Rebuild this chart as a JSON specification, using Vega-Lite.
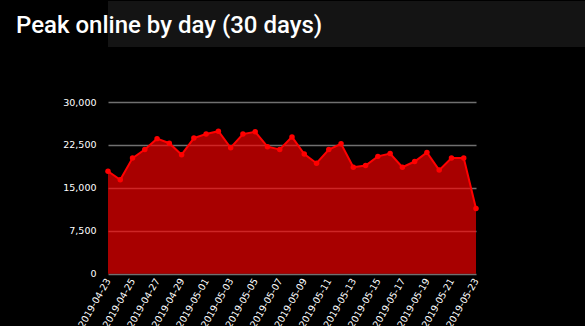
{
  "$schema": "https://vega.github.io/schema/vega-lite/v6.json",
  "background": "#000000",
  "padding": 0,
  "spacing": 50,
  "config": {
    "view": {"stroke": null},
    "axis": {"labelFont": "DejaVu Sans", "labelFontSize": 9.5, "labelColor": "#ffffff", "domain": false, "ticks": false, "tickSize": 0, "title": null}
  },
  "vconcat": [
    {
      "width": 477,
      "height": 46,
      "view": {"fill": "#141414", "stroke": null},
      "title": {"text": "Peak online by day (30 days)", "anchor": "start", "frame": "group", "offset": -56, "dx": -92, "baseline": "alphabetic", "font": "Roboto", "fontSize": 24, "fontWeight": 500, "color": "#ffffff"},
      "data": {"values": [{}]},
      "mark": {"type": "rule", "opacity": 0},
      "encoding": {}
    },
    {
      "width": 368,
      "height": 171.7,
      "data": {"values": [
        {"date": "2019-04-23", "peak": 17900},
        {"date": "2019-04-24", "peak": 16400},
        {"date": "2019-04-25", "peak": 20200},
        {"date": "2019-04-26", "peak": 21700},
        {"date": "2019-04-27", "peak": 23600},
        {"date": "2019-04-28", "peak": 22800},
        {"date": "2019-04-29", "peak": 20800},
        {"date": "2019-04-30", "peak": 23700},
        {"date": "2019-05-01", "peak": 24400},
        {"date": "2019-05-02", "peak": 24900},
        {"date": "2019-05-03", "peak": 22000},
        {"date": "2019-05-04", "peak": 24400},
        {"date": "2019-05-05", "peak": 24800},
        {"date": "2019-05-06", "peak": 22200},
        {"date": "2019-05-07", "peak": 21700},
        {"date": "2019-05-08", "peak": 23900},
        {"date": "2019-05-09", "peak": 20900},
        {"date": "2019-05-10", "peak": 19300},
        {"date": "2019-05-11", "peak": 21700},
        {"date": "2019-05-12", "peak": 22700},
        {"date": "2019-05-13", "peak": 18600},
        {"date": "2019-05-14", "peak": 18900},
        {"date": "2019-05-15", "peak": 20500},
        {"date": "2019-05-16", "peak": 21000},
        {"date": "2019-05-17", "peak": 18600},
        {"date": "2019-05-18", "peak": 19600},
        {"date": "2019-05-19", "peak": 21200},
        {"date": "2019-05-20", "peak": 18100},
        {"date": "2019-05-21", "peak": 20200},
        {"date": "2019-05-22", "peak": 20200},
        {"date": "2019-05-23", "peak": 11400}
      ]},
      "encoding": {
        "x": {"field": "date", "type": "ordinal", "sort": null,
          "scale": {"type": "point", "padding": 0},
          "axis": {"labelAngle": -60, "labelAlign": "right", "labelBaseline": "middle", "labelPadding": 5, "labelOverlap": false, "grid": false,
            "labelExpr": "toNumber(substring(datum.value, 8, 10)) % 2 == 1 ? datum.value : ''"}},
        "y": {"field": "peak", "type": "quantitative",
          "scale": {"domain": [0, 30000], "nice": false},
          "axis": {"values": [0, 7500, 15000, 22500, 30000], "format": ",.0f", "grid": true, "gridColor": "#707070", "gridWidth": 1.5, "minExtent": 108, "labelPadding": 12}}
      },
      "layer": [
        {"mark": {"type": "area", "color": "#ff0000", "opacity": 0.66}},
        {"mark": {"type": "line", "color": "#ff0000", "strokeWidth": 2}},
        {"mark": {"type": "point", "filled": true, "color": "#ff0000", "opacity": 1, "size": 30}}
      ]
    }
  ]
}
